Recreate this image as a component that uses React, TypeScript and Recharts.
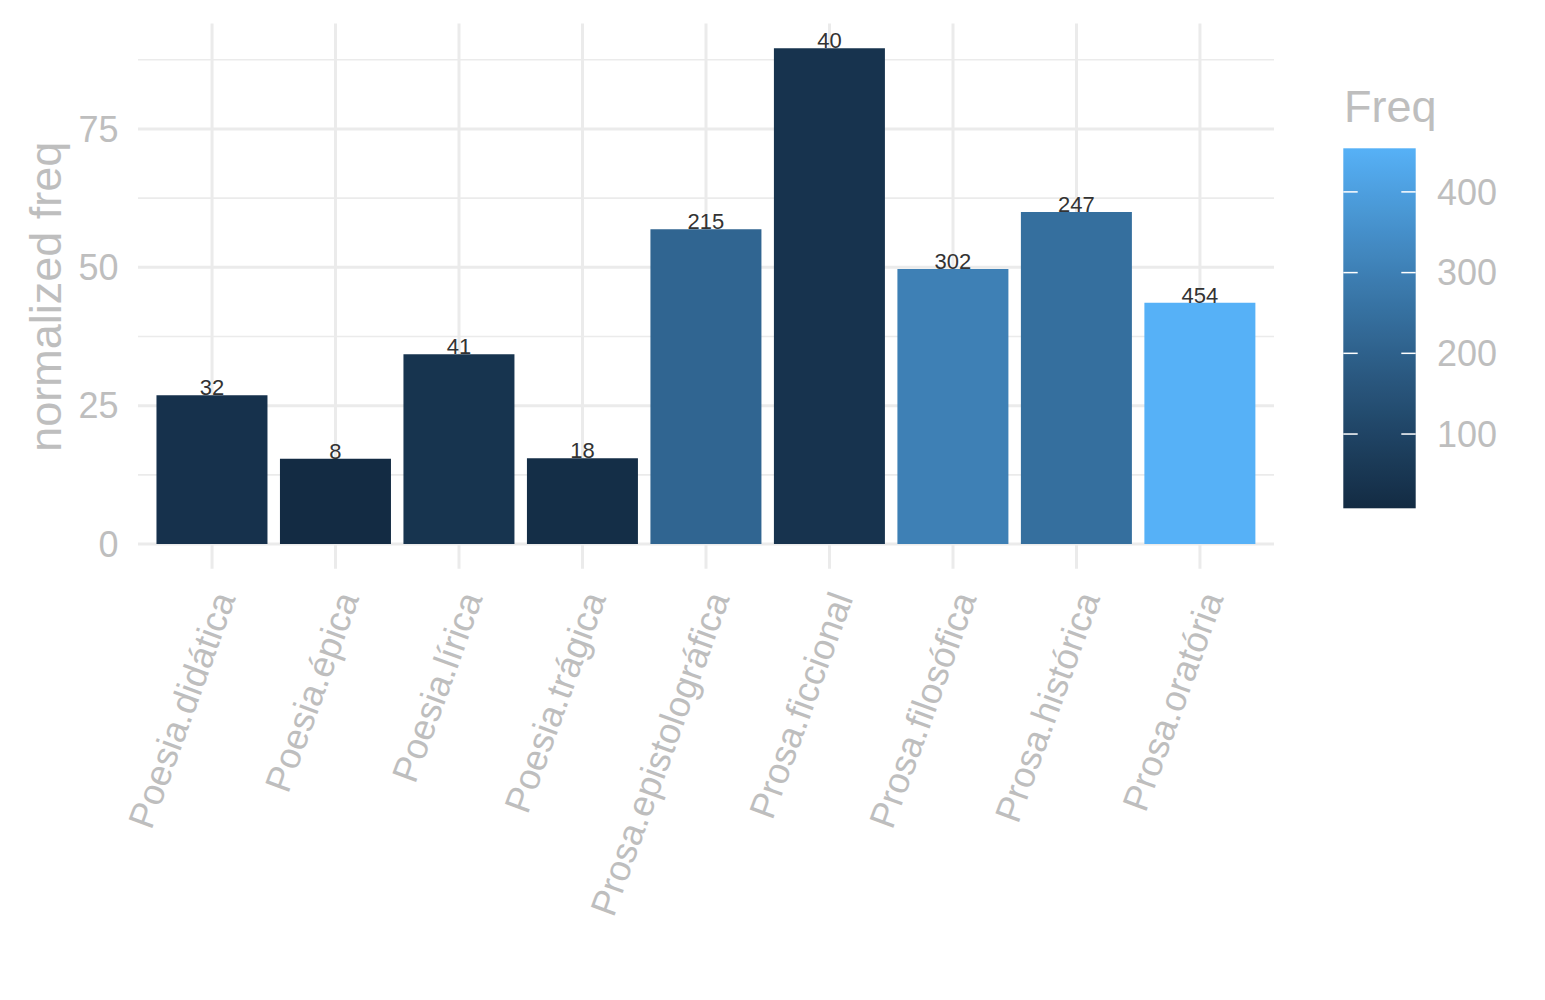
import React from "react";
import { Bar, BarChart, CartesianGrid, Cell, LabelList, XAxis, YAxis } from "recharts";

const genres = [
  "Poesia.didática",
  "Poesia.épica",
  "Poesia.lírica",
  "Poesia.trágica",
  "Prosa.epistolográfica",
  "Prosa.ficcional",
  "Prosa.filosófica",
  "Prosa.histórica",
  "Prosa.oratória",
];
const normalizedFreq = [26.9, 15.4, 34.3, 15.5, 56.9, 89.6, 49.7, 60.0, 43.6];
const freq = [32, 8, 41, 18, 215, 40, 302, 247, 454];

const yMajorTicks = [0, 25, 50, 75];
// major and minor breaks, alternating (major first)
const yGridValues = [0, 12.5, 25, 37.5, 50, 62.5, 75, 87.5];
const legendTicks = [100, 200, 300, 400];

const LOW = "#132B43";
const HIGH = "#56B1F7";
const textGrey = "#BEBEBE";
const gridColor = "#EBEBEB";
const font = "'Liberation Sans', Arial, Helvetica, sans-serif";

// ggplot-like gradient: interpolate in CIELAB
const toLin = (c: number) => {
  c /= 255;
  return c <= 0.04045 ? c / 12.92 : Math.pow((c + 0.055) / 1.055, 2.4);
};
const fromLin = (c: number) => {
  const v = c <= 0.0031308 ? 12.92 * c : 1.055 * Math.pow(c, 1 / 2.4) - 0.055;
  return Math.round(Math.min(1, Math.max(0, v)) * 255);
};
const WX = 0.95047, WY = 1, WZ = 1.08883;
const f = (t: number) => (t > 0.008856 ? Math.cbrt(t) : 7.787 * t + 16 / 116);
const fInv = (t: number) => (t * t * t > 0.008856 ? t * t * t : (t - 16 / 116) / 7.787);

function hexToLab(hex: string) {
  const r = toLin(parseInt(hex.slice(1, 3), 16));
  const g = toLin(parseInt(hex.slice(3, 5), 16));
  const b = toLin(parseInt(hex.slice(5, 7), 16));
  const X = (0.4124564 * r + 0.3575761 * g + 0.1804375 * b) / WX;
  const Y = (0.2126729 * r + 0.7151522 * g + 0.072175 * b) / WY;
  const Z = (0.0193339 * r + 0.119192 * g + 0.9503041 * b) / WZ;
  const fx = f(X), fy = f(Y), fz = f(Z);
  return [116 * fy - 16, 500 * (fx - fy), 200 * (fy - fz)];
}

function labToHex([L, a, bb]: number[]) {
  const fy = (L + 16) / 116;
  const fx = fy + a / 500;
  const fz = fy - bb / 200;
  const X = fInv(fx) * WX, Y = fInv(fy) * WY, Z = fInv(fz) * WZ;
  const r = 3.2404542 * X - 1.5371385 * Y - 0.4985314 * Z;
  const g = -0.969266 * X + 1.8760108 * Y + 0.041556 * Z;
  const b = 0.0556434 * X - 0.2040259 * Y + 1.0572252 * Z;
  return "#" + [r, g, b].map((c) => fromLin(c).toString(16).padStart(2, "0")).join("");
}

const lowLab = hexToLab(LOW);
const highLab = hexToLab(HIGH);
const fMin = Math.min(...freq);
const fMax = Math.max(...freq);

function fillFor(v: number) {
  const t = (v - fMin) / (fMax - fMin);
  return labToHex(lowLab.map((c, i) => c + (highLab[i] - c) * t));
}

const data = genres.map((g, i) => ({ genre: g, norm: normalizedFreq[i], freq: freq[i] }));

// panel edges (px) – used to skip the boundary lines recharts adds
const PANEL = { top: 23.4, bottom: 568.8, left: 138, right: 1274 };

const HLine = (props: any) => {
  const { x1, x2, y1, y2, index } = props;
  if (Math.abs(y1 - PANEL.top) < 1 || Math.abs(y1 - PANEL.bottom) < 1) return <g key={`h${index}`} />;
  const major = index % 2 === 0;
  return (
    <line
      key={`h${index}`}
      x1={x1}
      x2={x2}
      y1={y1}
      y2={y2}
      stroke={gridColor}
      strokeWidth={major ? 3 : 1.6}
    />
  );
};

const VLine = (props: any) => {
  const { x1, x2, y1, y2, index } = props;
  if (Math.abs(x1 - PANEL.left) < 1 || Math.abs(x1 - PANEL.right) < 1) return <g key={`v${index}`} />;
  return <line key={`v${index}`} x1={x1} x2={x2} y1={y1} y2={y2} stroke={gridColor} strokeWidth={3} />;
};

const XTick = (props: any) => {
  const { x, payload } = props;
  const tx = x + 24;
  const ty = 598;
  return (
    <text
      x={tx}
      y={ty}
      transform={`rotate(-70, ${tx}, ${ty})`}
      textAnchor="end"
      fill={textGrey}
      fontSize={36.5}
      fontFamily={font}
    >
      {payload.value}
    </text>
  );
};

const YTick = (props: any) => {
  const { y, payload } = props;
  return (
    <text x={118.5} y={y + 12.8} textAnchor="end" fill={textGrey} fontSize={36} fontFamily={font}>
      {payload.value}
    </text>
  );
};

const BarLabel = (props: any) => {
  const { x, y, width, value } = props;
  return (
    <text x={x + width / 2} y={y} textAnchor="middle" fill="#333333" fontSize={22} fontFamily={font}>
      {value}
    </text>
  );
};

function ColourBar() {
  const top = 148.3;
  const bottom = 508.3;
  const left = 1343.3;
  const w = 72.4;
  const yFor = (v: number) => bottom - ((v - fMin) / (fMax - fMin)) * (bottom - top);
  const stops = Array.from({ length: 31 }, (_, i) => i / 30);
  return (
    <svg width={1545} height={1000} style={{ position: "absolute", left: 0, top: 0, pointerEvents: "none" }}>
      <defs>
        <linearGradient id="freqGrad" x1="0" y1="1" x2="0" y2="0">
          {stops.map((s) => (
            <stop key={s} offset={s} stopColor={fillFor(fMin + s * (fMax - fMin))} />
          ))}
        </linearGradient>
      </defs>
      <text x={1344} y={121.5} fill={textGrey} fontSize={45} fontFamily={font}>
        Freq
      </text>
      <rect x={left} y={top} width={w} height={bottom - top} fill="url(#freqGrad)" />
      {legendTicks.map((t) => (
        <g key={t}>
          <line x1={left} x2={left + 14.4} y1={yFor(t)} y2={yFor(t)} stroke="#ffffff" strokeWidth={1.5} />
          <line x1={left + w - 14.4} x2={left + w} y1={yFor(t)} y2={yFor(t)} stroke="#ffffff" strokeWidth={1.5} />
          <text x={1437} y={yFor(t) + 12.8} fill={textGrey} fontSize={36} fontFamily={font}>
            {t}
          </text>
        </g>
      ))}
    </svg>
  );
}

export default function App() {
  return (
    <div style={{ position: "relative", width: 1545, height: 1000, background: "#ffffff" }}>
      <style>{`body { margin: 0; }`}</style>
      <BarChart
        width={1545}
        height={1000}
        data={data}
        margin={{ top: PANEL.top, right: 1545 - PANEL.right, bottom: 0, left: 0 }}
        barCategoryGap="5%"
      >
        <CartesianGrid horizontalValues={yGridValues} horizontal={HLine} vertical={VLine} />
        <XAxis
          dataKey="genre"
          interval={0}
          height={1000 - PANEL.bottom}
          padding={{ left: 12.3, right: 12.3 }}
          axisLine={false}
          tickLine={false}
          tick={<XTick />}
        />
        <YAxis
          type="number"
          domain={[-4.48, 94.08]}
          allowDataOverflow
          ticks={yMajorTicks}
          width={PANEL.left}
          axisLine={false}
          tickLine={false}
          tick={<YTick />}
          label={{
            value: "normalized freq",
            content: () => (
              <text
                x={61}
                y={296.7}
                transform="rotate(-90, 61, 296.7)"
                textAnchor="middle"
                fill={textGrey}
                fontSize={45}
                fontFamily={font}
              >
                normalized freq
              </text>
            ),
          }}
        />
        <Bar dataKey="norm" isAnimationActive={false}>
          {data.map((d) => (
            <Cell key={d.genre} fill={fillFor(d.freq)} />
          ))}
          <LabelList dataKey="freq" content={<BarLabel />} />
        </Bar>
      </BarChart>
      <ColourBar />
    </div>
  );
}
